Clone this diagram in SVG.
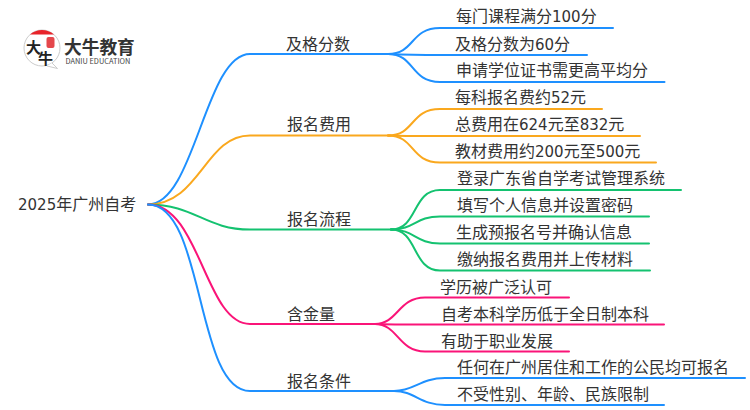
<svg xmlns="http://www.w3.org/2000/svg" width="750" height="410" viewBox="0 0 750 410">
<style>
text{font-family:"Noto Sans CJK SC","Noto Sans",sans-serif;font-size:16px;fill:#333}
.d{font-family:"DejaVu Sans",sans-serif;font-size:15px}
.c path{fill:none;stroke-width:2;stroke-linecap:round}
.blue path{stroke:#1e90ff}.orange path{stroke:#faa81e}.green path{stroke:#14c270}.pink path{stroke:#fa1478}
</style>
<rect width="750" height="410" fill="#fff"/>
<g id="connectors" class="c">
<g class="blue">
<path d="M148 204.500C195 204.500 205 54 250 54H390"/>
<path d="M388 54C415 54 410 28 440 28H613"/>
<path d="M388 54C400 54.500 420 55 440 55H587"/>
<path d="M388 54C415 54 410 82 440 82H664.500"/>
</g>
<g class="orange">
<path d="M148 204.500C200 204.500 205 135.500 250 135.500H390"/>
<path d="M388 135.500C415 135.500 410 109 440 109H602"/>
<path d="M388 135.500C400 136 420 136 440 136H640"/>
<path d="M388 135.500C415 135.500 410 162.500 440 162.500H656"/>
</g>
<g class="green">
<path d="M148 204.500C195 204.500 205 229.500 250 229.500H393"/>
<path d="M391 229.500C418 229.500 412 190 440 190H681"/>
<path d="M391 229.500C415 229.500 415 216.500 440 216.500H649"/>
<path d="M391 229.500C415 229.500 415 243.500 440 243.500H649"/>
<path d="M391 229.500C418 229.500 412 270.500 440 270.500H650"/>
</g>
<g class="pink">
<path d="M148 204.500C200 204.500 205 324 250 324H376"/>
<path d="M375 324C398 324 398 297.500 425 297.500H569"/>
<path d="M375 324C390 324.500 405 324.500 425 324.500H664"/>
<path d="M375 324C398 324 398 351.500 425 351.500H569"/>
</g>
<g class="blue">
<path d="M148 204.500C205 204.500 195 391 250 391H396"/>
<path d="M394 391C415 391 420 378 445 378H745"/>
<path d="M394 391C415 391 420 405 445 405H664"/>
</g>
</g>
<g id="logo">
<circle cx="42" cy="48" r="18" fill="#fff" stroke="#ccc"/>
<path d="M30 34.500A18 18 0 0 1 54 34.500Z" fill="#e8232a"/>
<path d="M52 63L57.500 68.500L47 66" fill="#fff" stroke="#ccc"/>
<text x="26" y="53" style="font-size:15px;font-weight:700;fill:#222">大</text>
<text x="38" y="64" style="font-size:15px;font-weight:700;fill:#222">牛</text>
<rect x="46.500" y="37" width="8" height="11" rx="2" fill="#e4474c"/>
<text x="64" y="54" style="font-size:17.700px;font-weight:700;fill:#333">大牛教育</text>
<text x="65.500" y="63.500" style="font-size:7.400px;fill:#444">DANIU EDUCATION</text>
</g>
<g id="root"><text x="18" y="210"><tspan class="d">2025</tspan>年广州自考</text></g>
<g id="n1"><text x="286" y="50">及格分数</text></g>
<g id="n2"><text x="287" y="130">报名费用</text></g>
<g id="n3"><text x="287" y="225">报名流程</text></g>
<g id="n4"><text x="287" y="320">含金量</text></g>
<g id="n5"><text x="287" y="387">报名条件</text></g>
<g id="n1a"><text x="456" y="22">每门课程满分<tspan class="d">100</tspan>分</text></g>
<g id="n1b"><text x="455" y="49.500">及格分数为<tspan class="d">60</tspan>分</text></g>
<g id="n1c"><text x="456" y="76">申请学位证书需更高平均分</text></g>
<g id="n2a"><text x="455" y="103">每科报名费约<tspan class="d">52</tspan>元</text></g>
<g id="n2b"><text x="455" y="130">总费用在<tspan class="d">624</tspan>元至<tspan class="d">832</tspan>元</text></g>
<g id="n2c"><text x="455" y="157">教材费用约<tspan class="d">200</tspan>元至<tspan class="d">500</tspan>元</text></g>
<g id="n3a"><text x="457" y="184">登录广东省自学考试管理系统</text></g>
<g id="n3b"><text x="457" y="211">填写个人信息并设置密码</text></g>
<g id="n3c"><text x="456" y="238">生成预报名号并确认信息</text></g>
<g id="n3d"><text x="457" y="265">缴纳报名费用并上传材料</text></g>
<g id="n4a"><text x="440" y="292.500">学历被广泛认可</text></g>
<g id="n4b"><text x="441" y="319.500">自考本科学历低于全日制本科</text></g>
<g id="n4c"><text x="441" y="346.500">有助于职业发展</text></g>
<g id="n5a"><text x="457" y="373">任何在广州居住和工作的公民均可报名</text></g>
<g id="n5b"><text x="457" y="400">不受性别、年龄、民族限制</text></g>
</svg>
